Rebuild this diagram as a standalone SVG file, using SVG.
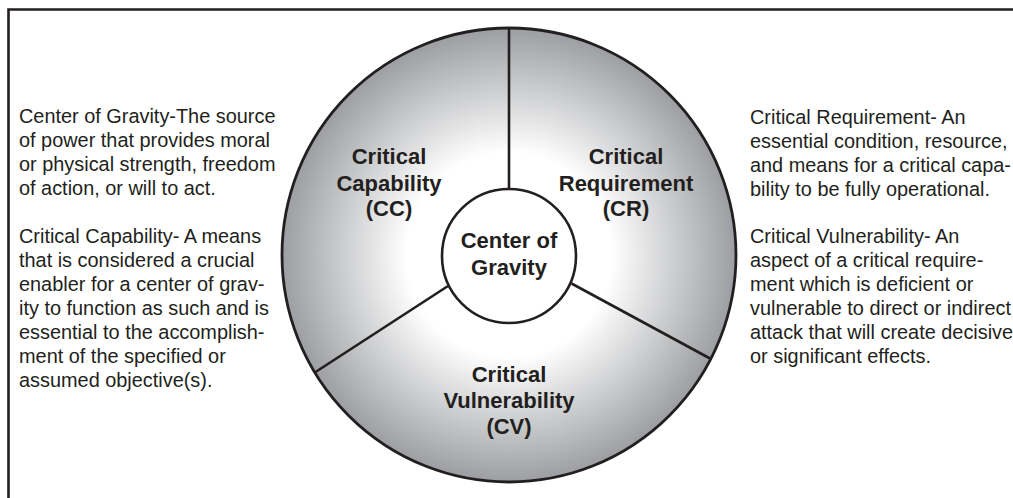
<svg xmlns="http://www.w3.org/2000/svg" width="1013" height="498" viewBox="0 0 1013 498">
<defs>
<radialGradient id="ring" cx="509" cy="255" r="227" gradientUnits="userSpaceOnUse">
<stop offset="0" stop-color="#ffffff"/>
<stop offset="0.45" stop-color="#ffffff"/>
<stop offset="1" stop-color="#9c9ea1"/>
</radialGradient>
</defs>
<style>
.frame{fill:none;stroke:#231f20;stroke-width:2.6}
.edge{fill:none;stroke:#231f20;stroke-width:2.6}
.body{font-family:"Liberation Sans",Arial,sans-serif;font-size:19.9px;fill:#231f20}
.lbl{font-family:"Liberation Sans",Arial,sans-serif;font-size:22px;font-weight:bold;fill:#231f20;text-anchor:middle}
</style>
<rect width="1013" height="498" fill="#ffffff"/>
<path class="frame" d="M8.5,498 V9.5 H1013"/>
<g id="wheel">
<circle cx="509" cy="255" r="227" fill="url(#ring)" stroke="#231f20" stroke-width="2.8"/>
</g>
<g id="connectors">
<line class="edge" x1="509" y1="28" x2="509" y2="189"/>
<line class="edge" x1="448" y1="286" x2="314" y2="373"/>
<line class="edge" x1="571.5" y1="283.5" x2="711" y2="359"/>
</g>
<g id="cc">
<text class="lbl" x="389" y="164">Critical</text>
<text class="lbl" x="389" y="191">Capability</text>
<text class="lbl" x="389" y="216">(CC)</text>
</g>
<g id="cr">
<text class="lbl" x="626" y="164">Critical</text>
<text class="lbl" x="626" y="191">Requirement</text>
<text class="lbl" x="626" y="216">(CR)</text>
</g>
<g id="cv">
<text class="lbl" x="509" y="382">Critical</text>
<text class="lbl" x="509" y="408">Vulnerability</text>
<text class="lbl" x="509" y="434">(CV)</text>
</g>
<g id="cog">
<circle cx="509" cy="256" r="67" fill="#ffffff" stroke="#231f20" stroke-width="2.6"/>
<text class="lbl" x="509" y="248">Center of</text>
<text class="lbl" x="509" y="275">Gravity</text>
</g>
<g id="left-notes">
<text class="body" x="19" y="123">Center of Gravity-The source</text>
<text class="body" x="19" y="147">of power that provides moral</text>
<text class="body" x="19" y="171">or physical strength, freedom</text>
<text class="body" x="19" y="195">of action, or will to act.</text>
<text class="body" x="19" y="243">Critical Capability- A means</text>
<text class="body" x="19" y="267">that is considered a crucial</text>
<text class="body" x="19" y="291">enabler for a center of grav-</text>
<text class="body" x="19" y="315">ity to function as such and is</text>
<text class="body" x="19" y="339">essential to the accomplish-</text>
<text class="body" x="19" y="363">ment of the specified or</text>
<text class="body" x="19" y="387">assumed objective(s).</text>
</g>
<g id="right-notes">
<text class="body" x="750" y="124">Critical Requirement- An</text>
<text class="body" x="750" y="148">essential condition, resource,</text>
<text class="body" x="750" y="172">and means for a critical capa-</text>
<text class="body" x="750" y="196">bility to be fully operational.</text>
<text class="body" x="750" y="243">Critical Vulnerability- An</text>
<text class="body" x="750" y="267">aspect of a critical require-</text>
<text class="body" x="750" y="291">ment which is deficient or</text>
<text class="body" x="750" y="315">vulnerable to direct or indirect</text>
<text class="body" x="750" y="339">attack that will create decisive</text>
<text class="body" x="750" y="363">or significant effects.</text>
</g>
</svg>
